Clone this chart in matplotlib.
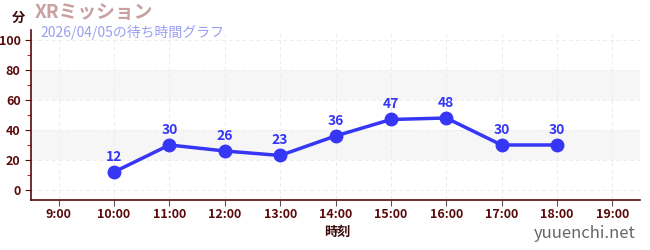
import matplotlib
matplotlib.use("Agg")
import matplotlib.pyplot as plt
from matplotlib.ticker import MultipleLocator

plt.rcParams["font.family"] = ["Noto Sans CJK JP", "DejaVu Sans"]

# wait times per hour
hours = [10, 11, 12, 13, 14, 15, 16, 17, 18]
waits = [12, 30, 26, 23, 36, 47, 48, 30, 30]
tick_hours = list(range(9, 20))
tick_labels = [f"{h}:00" for h in tick_hours]

title = "XRミッション"
subtitle = "2026/04/05の待ち時間グラフ"

axis_col = "#5a0a0a"
line_col = "#3636f5"

fig = plt.figure(figsize=(6.5, 2.5), dpi=100)
ax = fig.add_axes([31 / 650, 50 / 250, 609 / 650, 170 / 250])

ax.set_xlim(8.5, 19.5)
ax.set_ylim(-6.7, 106.7)

# shaded bands
for lo, hi in [(20, 40), (60, 80)]:
    ax.axhspan(lo, hi, color="#f6f6f6", zorder=0, lw=0)

ax.set_xticks(tick_hours)
ax.set_xticklabels(tick_labels)
ax.set_yticks([0, 20, 40, 60, 80, 100])
ax.yaxis.set_minor_locator(MultipleLocator(10))
ax.grid(True, color="#ececec", linestyle=(0, (4, 3)), linewidth=0.7, zorder=0)

ax.plot(hours, waits, color=line_col, lw=2.5, marker="o", ms=9, zorder=3)
for h, w in zip(hours, waits):
    ax.annotate(str(w), (h, w), xytext=(0, 6), textcoords="offset points",
                ha="center", va="bottom", color=line_col, fontsize=10,
                fontweight="bold")

for s in ["top", "right"]:
    ax.spines[s].set_visible(False)
for s in ["left", "bottom"]:
    ax.spines[s].set_color(axis_col)
    ax.spines[s].set_linewidth(1.2)

ax.tick_params(axis="both", colors=axis_col, labelsize=9, length=4, width=0.8)
ax.tick_params(axis="y", which="minor", colors="#cc2222", length=3, width=0.8)
ax.tick_params(axis="x", colors="#555555", labelcolor=axis_col, pad=1.5)
for lab in ax.get_xticklabels() + ax.get_yticklabels():
    lab.set_fontweight("bold")

fig.text(12 / 650, 1 - 18 / 250, "分", ha="left", va="center", fontsize=9.5,
         fontweight="bold", color="#3a0a0a")
fig.text(35 / 650, 1 - 12 / 250, title, ha="left", va="center", fontsize=13.5,
         fontweight="bold", color="#c9a0a0")
fig.text(40 / 650, 1 - 32 / 250, subtitle, ha="left", va="center", fontsize=10,
         color="#9a9ef0")
fig.text(337 / 650, 1 - 232 / 250, "時刻", ha="center", va="center", fontsize=9.5,
         fontweight="bold", color="#3a0a0a")
fig.text(636 / 650, 1 - 233 / 250, "yuuenchi.net", ha="right", va="center",
         fontsize=12, color="#666666")

fig.savefig("out.png", dpi=100)
